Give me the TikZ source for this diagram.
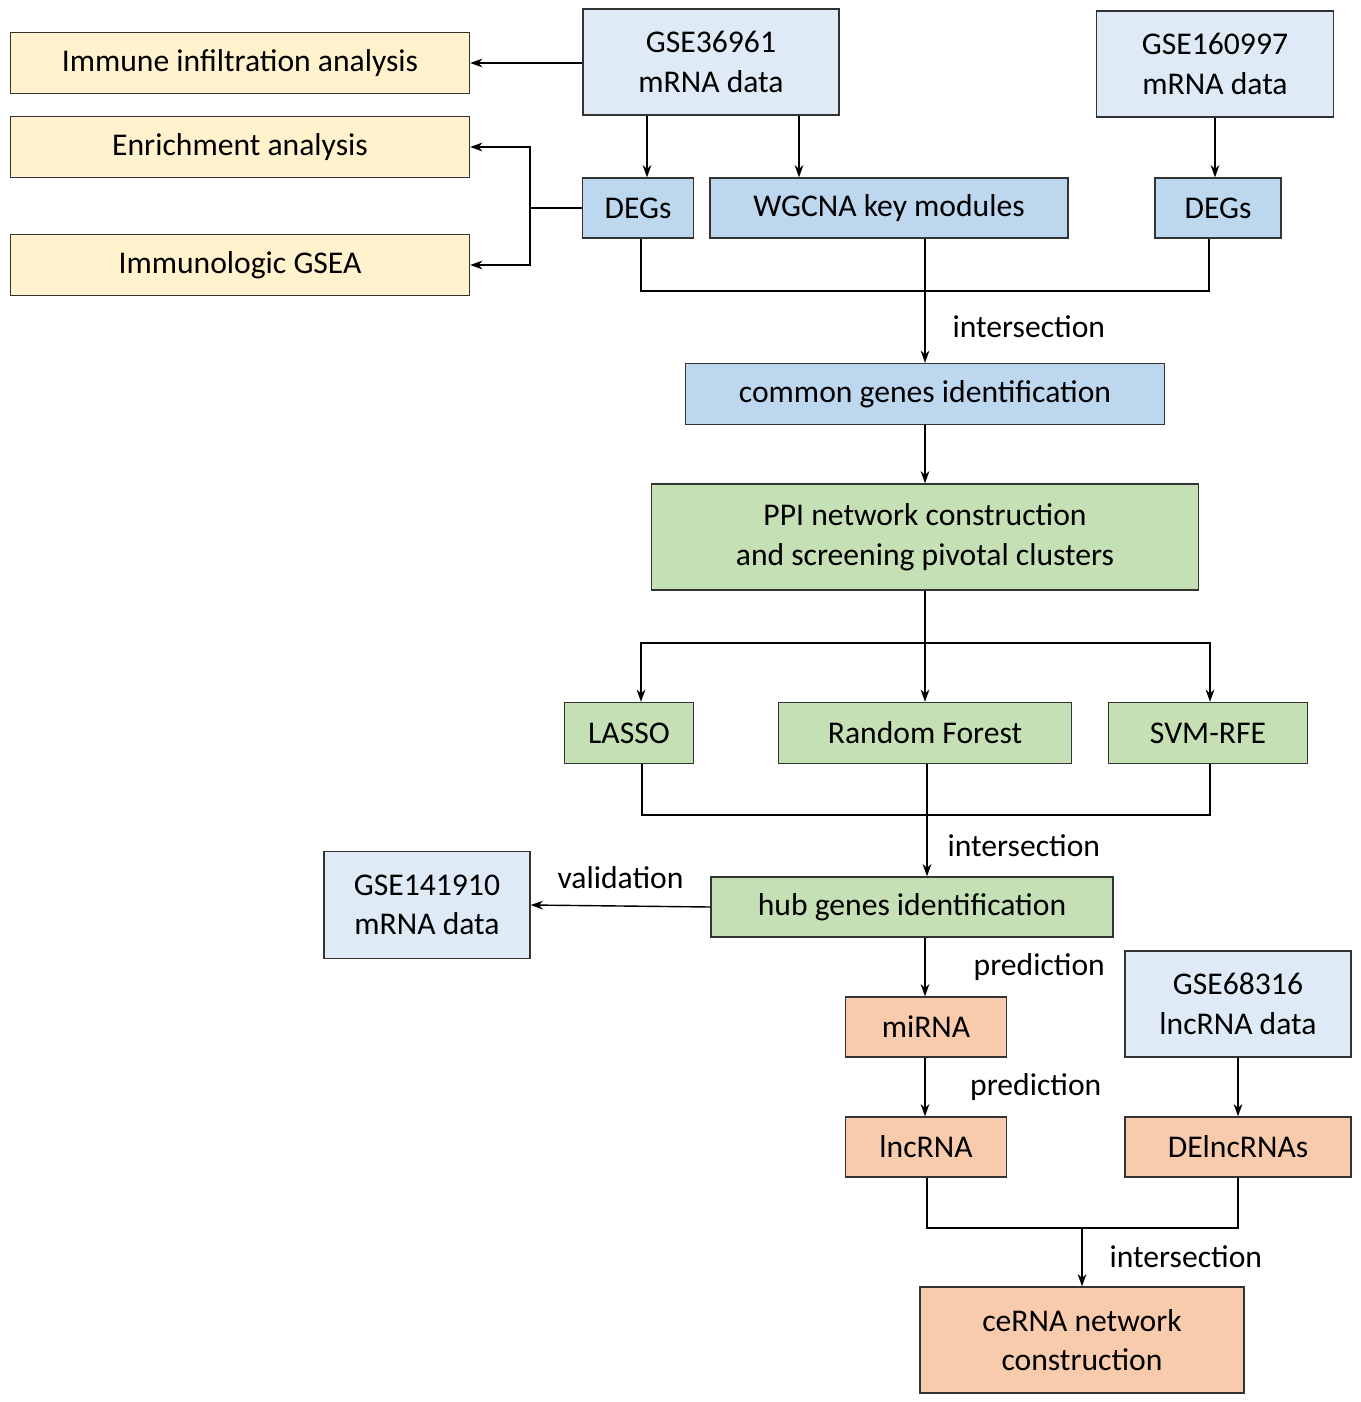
\documentclass[tikz,border=0pt]{standalone}
\usepackage{fontspec}
\setmainfont{Carlito}
\usetikzlibrary{arrows.meta}
\definecolor{cyel}{HTML}{FFF2CC}
\definecolor{clblue}{HTML}{DEEBF7}
\definecolor{cblue}{HTML}{BDD7EE}
\definecolor{cgreen}{HTML}{C5E0B4}
\definecolor{corange}{HTML}{F8CBAD}
\begin{document}
\begin{tikzpicture}[x=0.02cm,y=-0.02cm,
  box/.style={draw=black!80,line width=0.8pt,inner sep=0pt,align=center,
    font=\fontsize{18}{22.5}\selectfont},
  lbl/.style={font=\fontsize{18}{22.5}\selectfont},
  arr/.style={-{Stealth[length=7pt,width=5pt]},line width=0.8pt},
  ln/.style={line width=0.8pt}]
\useasboundingbox (0,0) rectangle (1360,1402);
% boxes: center, width, height
\node[box,fill=cyel,minimum width=459\pgflinewidth*0+9.18cm,minimum height=1.22cm] (imm) at (240,63) {Immune infiltration analysis};
\node[box,fill=cyel,minimum width=9.18cm,minimum height=1.22cm] (enr) at (240,147) {Enrichment analysis};
\node[box,fill=cyel,minimum width=9.18cm,minimum height=1.22cm] (gsea) at (240,265) {Immunologic GSEA};
\node[box,fill=clblue,minimum width=5.12cm,minimum height=2.12cm] (g1) at (711,62) {GSE36961\\mRNA data};
\node[box,fill=clblue,minimum width=4.74cm,minimum height=2.12cm] (g2) at (1215,64) {GSE160997\\mRNA data};
\node[box,fill=cblue,minimum width=2.22cm,minimum height=1.2cm] (d1) at (638,208) {DEGs};
\node[box,fill=cblue,minimum width=7.16cm,minimum height=1.2cm] (wg) at (889,208) {WGCNA key modules};
\node[box,fill=cblue,minimum width=2.52cm,minimum height=1.2cm] (d2) at (1218,208) {DEGs};
\node[box,fill=cblue,minimum width=9.58cm,minimum height=1.22cm] (com) at (925,394) {common genes identification};
\node[box,fill=cgreen,minimum width=10.94cm,minimum height=2.12cm] (ppi) at (925,537) {PPI network construction\\and screening pivotal clusters};
\node[box,fill=cgreen,minimum width=2.58cm,minimum height=1.22cm] (las) at (629,733) {LASSO};
\node[box,fill=cgreen,minimum width=5.86cm,minimum height=1.22cm] (rf) at (925,733) {Random Forest};
\node[box,fill=cgreen,minimum width=3.98cm,minimum height=1.22cm] (svm) at (1208,733) {SVM-RFE};
\node[box,fill=clblue,minimum width=4.12cm,minimum height=2.14cm] (g3) at (427,905) {GSE141910\\mRNA data};
\node[box,fill=cgreen,minimum width=8.04cm,minimum height=1.2cm] (hub) at (912,907) {hub genes identification};
\node[box,fill=corange,minimum width=3.22cm,minimum height=1.2cm] (mi) at (926,1027) {miRNA};
\node[box,fill=clblue,minimum width=4.52cm,minimum height=2.12cm] (g4) at (1238,1004) {GSE68316\\lncRNA data};
\node[box,fill=corange,minimum width=3.22cm,minimum height=1.2cm] (lnc) at (926,1147) {lncRNA};
\node[box,fill=corange,minimum width=4.52cm,minimum height=1.2cm] (del) at (1238,1147) {DElncRNAs};
\node[box,fill=corange,minimum width=6.48cm,minimum height=2.12cm] (ce) at (1082,1340) {ceRNA network\\construction};
% junction coordinates
\coordinate (j1) at (925,291);
\coordinate (j2) at (925,643);
\coordinate (j3) at (927,815);
\coordinate (j4) at (1082,1228);
\coordinate (jl) at (530,208);
% connectors
\draw[arr] (g1.west |- imm.east) -- (imm.east);
\draw[arr] (g1.south -| 647,0) -- (d1.north -| 647,0);
\draw[arr] (g1.south -| 799,0) -- (wg.north -| 799,0);
\draw[arr] (g2.south) -- (d2.north -| g2.south);
\draw[ln] (d1.west) -- (jl);
\draw[arr] (jl) |- (enr.east);
\draw[arr] (jl) |- (gsea.east);
\draw[ln] (d1.south -| 641,0) |- (j1) -| (d2.south -| 1209,0);
\draw[ln] (wg.south -| j1) -- (j1);
\draw[arr] (j1) -- (com.north) node[lbl,midway,right=12pt] {intersection};
\draw[arr] (com) -- (ppi);
\draw[ln] (ppi.south) -- (j2);
\draw[arr] (j2) -| (las.north -| 641,0);
\draw[arr] (j2) -| (svm.north -| 1210,0);
\draw[arr] (j2) -- (rf.north);
\draw[ln] (las.south -| 642,0) |- (j3) -| (svm.south -| 1210,0);
\draw[ln] (rf.south -| j3) -- (j3);
\draw[arr] (j3) -- (hub.north -| j3) node[lbl,midway,right=8pt] {intersection};
\draw[arr] (hub.west) -- (g3.east) node[lbl,midway,above=6pt] {validation};
\draw[arr] (hub.south -| 925,0) -- (mi.north -| 925,0) node[lbl,midway,right=24pt] {prediction};
\draw[arr] (mi.south -| 925,0) -- (lnc.north -| 925,0) node[lbl,midway,right=22pt] {prediction};
\draw[arr] (g4.south) -- (del.north);
\draw[ln] (lnc.south -| 927,0) |- (j4) -| (del.south);
\draw[arr] (j4) -- (ce.north) node[lbl,midway,right=12pt] {intersection};
\end{tikzpicture}
\end{document}
